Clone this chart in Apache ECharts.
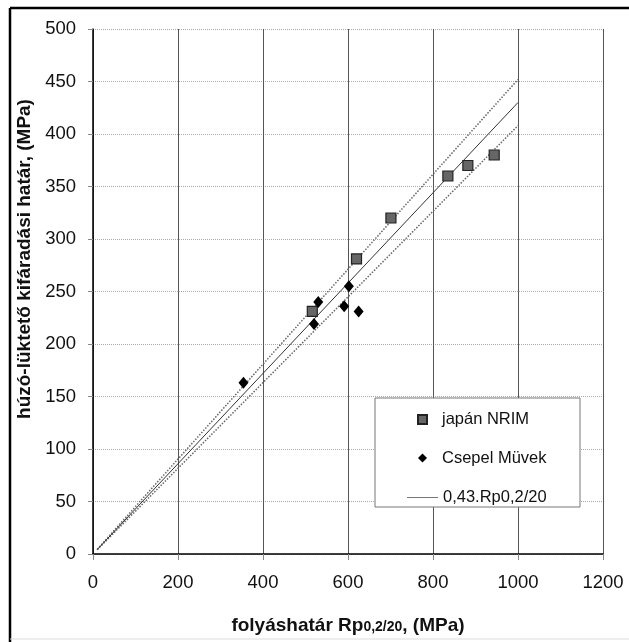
<!DOCTYPE html>
<html>
<head>
<meta charset="utf-8">
<script src="https://cdn.jsdelivr.net/npm/echarts@6/dist/echarts.min.js"></script>
<style>html,body{margin:0;padding:0;background:#fff;}#c{width:629px;height:642px;}</style>
</head>
<body>
<div id="c"></div>
<script>
// ---- data ----
const xTicks = [0, 200, 400, 600, 800, 1000, 1200];
const yTicks = [0, 50, 100, 150, 200, 250, 300, 350, 400, 450, 500];
const nrimX = [516, 620, 701, 835, 882, 944];
const nrimY = [231, 281, 320, 360, 370, 380];
const csepelX = [354, 520, 530, 591, 602, 625];
const csepelY = [163, 219, 240, 236, 255, 231];
const fitX = [10, 1000];
const fitY = [4.3, 430];
const upperY = [4.5, 452];
const lowerY = [4.1, 408];
const seriesNames = ['japán NRIM', 'Csepel Müvek', '0,43.Rp0,2/20'];

const pairs = (xs, ys) => xs.map((x, i) => [x, ys[i]]);
const FONT = "'Liberation Sans', Arial, sans-serif";

const chart = echarts.init(document.getElementById('c'), null, {renderer: 'canvas'});
chart.setOption({
  animation: false,
  backgroundColor: '#fff',
  textStyle: {fontFamily: FONT},
  grid: {left: 93, right: 26, top: 29, bottom: 88, containLabel: false},
  xAxis: {
    type: 'value', min: xTicks[0], max: xTicks[xTicks.length - 1], interval: 200,
    axisLine: {show: true, lineStyle: {color: '#000', width: 1.5}},
    axisTick: {show: true, length: 6, lineStyle: {color: '#888'}},
    axisLabel: {margin: 19, fontSize: 18.5, color: '#111', fontFamily: FONT, formatter: v => String(v)},
    splitLine: {show: true, lineStyle: {color: '#555', width: 1}},
    name: 'folyáshatár Rp{s|0,2/20}, (MPa)',
    nameLocation: 'middle', nameGap: 62,
    nameTextStyle: {fontSize: 19, fontWeight: 'bold', color: '#111', fontFamily: FONT,
      rich: {s: {fontSize: 14, fontWeight: 'bold', color: '#111', fontFamily: FONT, padding: [4, 0, 0, 0]}}}
  },
  yAxis: {
    type: 'value', min: yTicks[0], max: yTicks[yTicks.length - 1], interval: 50,
    axisLine: {show: true, lineStyle: {color: '#000', width: 1.5}},
    axisTick: {show: true, length: 5, lineStyle: {color: '#888'}},
    axisLabel: {margin: 17, fontSize: 18.5, color: '#111', fontFamily: FONT, formatter: v => String(v)},
    splitLine: {show: true, lineStyle: {color: '#aaa', width: 1, type: 'dotted'}}
  },
  legend: [
    {
      orient: 'vertical', left: 417, top: 411, padding: 0,
      itemWidth: 9, itemHeight: 9, itemGap: 21.5,
      textStyle: {fontSize: 16.5, color: '#111', fontFamily: FONT, padding: [0, 0, 0, 10]},
      data: [
        {name: seriesNames[0], icon: 'rect'},
        {name: seriesNames[1], icon: 'diamond'}
      ],
      z: 5
    },
    {
      orient: 'vertical', left: 407, top: 489, padding: 0,
      itemWidth: 31, itemHeight: 1, itemGap: 10,
      textStyle: {fontSize: 16.5, color: '#111', fontFamily: FONT, padding: [0, 0, 0, 0]},
      data: [{name: seriesNames[2], icon: 'rect', itemStyle: {color: '#777'}}],
      z: 5
    }
  ],
  graphic: [
    {type: 'rect', z: 3, shape: {x: 375, y: 398, width: 205, height: 109},
      style: {fill: '#fff', stroke: '#777', lineWidth: 1}},
    {type: 'line', z: 10, shape: {x1: 10, y1: 8, x2: 629, y2: 8}, style: {stroke: '#000', lineWidth: 2.5}},
    {type: 'line', z: 10, shape: {x1: 10, y1: 8, x2: 10, y2: 642}, style: {stroke: '#000', lineWidth: 2.5}},
    {type: 'line', z: 10, shape: {x1: 10, y1: 639, x2: 629, y2: 639}, style: {stroke: '#ddd', lineWidth: 1}},
    {type: 'text', z: 10, x: 25, y: 259, rotation: Math.PI / 2,
      style: {text: 'húzó-lüktető kifáradási határ, (MPa)', font: "bold 19px " + FONT,
        fill: '#111', textAlign: 'center', textVerticalAlign: 'middle'}}
  ],
  series: [
    {name: 'upper', type: 'line', data: pairs(fitX, upperY), showSymbol: false, symbol: 'none',
      lineStyle: {color: '#666', width: 1.5, type: 'dotted'}, z: 1, silent: true},
    {name: 'lower', type: 'line', data: pairs(fitX, lowerY), showSymbol: false, symbol: 'none',
      lineStyle: {color: '#666', width: 1.5, type: 'dotted'}, z: 1, silent: true},
    {name: seriesNames[2], type: 'line', data: pairs(fitX, fitY), showSymbol: false, symbol: 'none',
      lineStyle: {color: '#333', width: 1}, itemStyle: {color: '#777'}, z: 1},
    {name: seriesNames[0], type: 'scatter', data: pairs(nrimX, nrimY), symbol: 'rect', symbolSize: 10,
      itemStyle: {color: '#666', borderColor: '#222', borderWidth: 1.2, opacity: 1}, z: 2},
    {name: seriesNames[1], type: 'scatter', data: pairs(csepelX, csepelY), symbol: 'diamond', symbolSize: [10, 12],
      itemStyle: {color: '#000', opacity: 1}, z: 2}
  ]
});
</script>
</body>
</html>
